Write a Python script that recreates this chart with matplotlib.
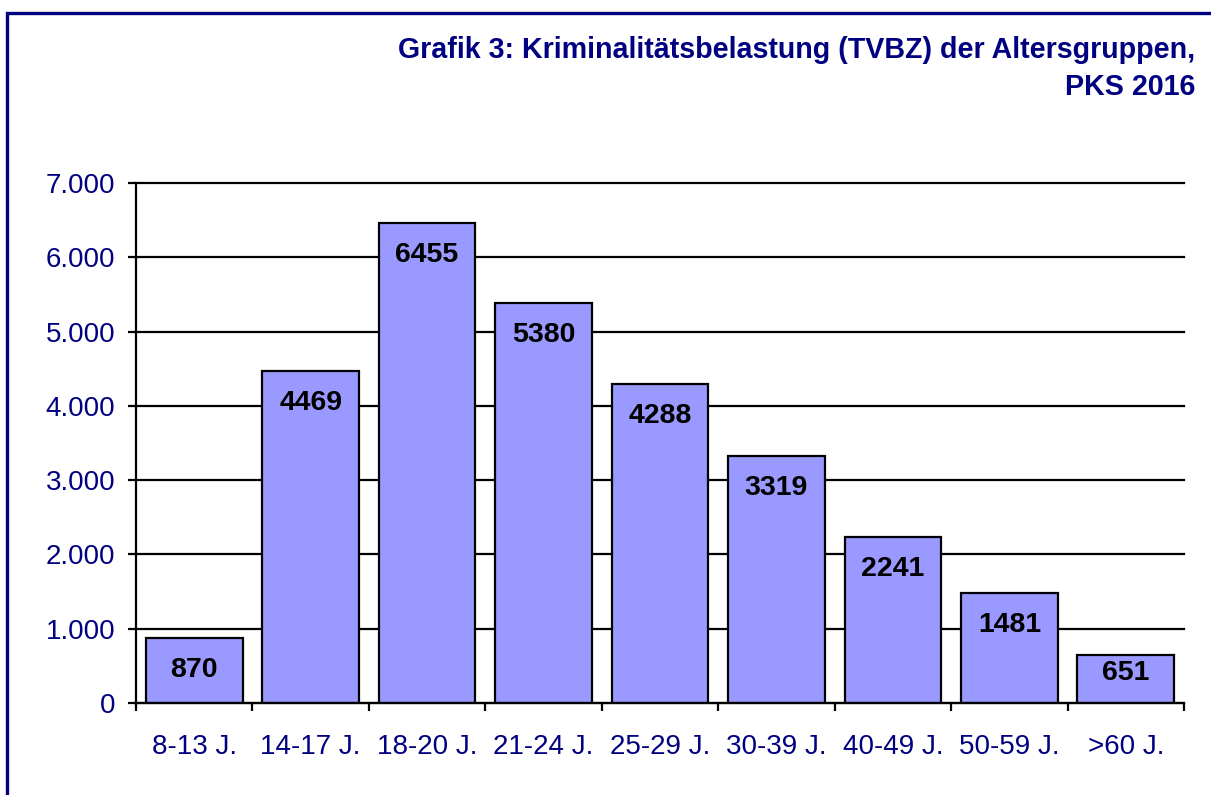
import matplotlib.pyplot as plt
from matplotlib.patches import Rectangle
from matplotlib.ticker import FuncFormatter

plt.rcParams["font.family"] = ["Liberation Sans", "DejaVu Sans"]

# Daten: Kriminalitätsbelastung (TVBZ) nach Altersgruppen, PKS 2016
altersgruppen = ["8-13 J.", "14-17 J.", "18-20 J.", "21-24 J.", "25-29 J.",
                 "30-39 J.", "40-49 J.", "50-59 J.", ">60 J."]
tvbz = [870, 4469, 6455, 5380, 4288, 3319, 2241, 1481, 651]
y_ticks = [0, 1000, 2000, 3000, 4000, 5000, 6000, 7000]
titel = ["Grafik 3: Kriminalitätsbelastung (TVBZ) der Altersgruppen,", "PKS 2016"]

navy = "#000080"

fig = plt.figure(figsize=(12.11, 7.95), dpi=100)
ax = fig.add_axes([0.1123, 0.1157, 0.8654, 0.6541])

# Rahmen um die Grafik (läuft rechts und unten aus dem Bild)
fig.patches.append(Rectangle((6.5 / 1211, -0.5), 2, 1.5 - 12.5 / 795,
                             transform=fig.transFigure, fill=False,
                             edgecolor=navy, linewidth=2.4))

x = list(range(len(altersgruppen)))
ax.bar(x, tvbz, width=0.83, color="#9999FF", edgecolor="black",
       linewidth=1.6, zorder=3)

# Werte innen am oberen Balkenende; bei kurzen Balken etwas höher
px_pro_einheit = 520 / 7000
for xi, v in zip(x, tvbz):
    off = min(32, v * px_pro_einheit - 30) / 1.389
    ax.annotate(str(v), (xi, v), xytext=(0, -off), textcoords="offset points",
                ha="center", va="center", fontsize=20.5, fontweight="bold",
                color="black", zorder=4)

ax.set_xlim(-0.5, len(altersgruppen) - 0.5)
ax.set_ylim(0, 7000)
ax.set_yticks(y_ticks)
ax.yaxis.set_major_formatter(FuncFormatter(lambda v, p: f"{int(v):,}".replace(",", ".")))
ax.grid(axis="y", color="black", linewidth=1.6, zorder=1)
ax.set_axisbelow(True)
for gl in ax.get_ygridlines():
    gl.set_clip_on(False)

# Striche an den Kategoriegrenzen, Beschriftung in der Mitte
ax.set_xticks([i - 0.5 for i in range(len(altersgruppen) + 1)])
ax.set_xticklabels([])
ax.set_xticks(x, minor=True)
ax.set_xticklabels(altersgruppen, minor=True)
ax.tick_params(axis="x", which="major", length=6, width=1.6, color="black")
ax.tick_params(axis="x", which="minor", length=0, pad=22, labelsize=20,
               labelcolor=navy)
ax.tick_params(axis="y", length=6, width=1.6, pad=9, labelsize=20,
               labelcolor=navy)

for s in ["top", "right"]:
    ax.spines[s].set_visible(False)
for s in ["left", "bottom"]:
    ax.spines[s].set_linewidth(1.6)
    ax.spines[s].set_zorder(5)

fig.text(1195 / 1211, 1 - 58 / 795, titel[0], ha="right", va="baseline",
         fontsize=20.6, fontweight="bold", color=navy)
fig.text(1195 / 1211, 1 - 95 / 795, titel[1], ha="right", va="baseline",
         fontsize=20.6, fontweight="bold", color=navy)

fig.savefig("out.png", dpi=100)
